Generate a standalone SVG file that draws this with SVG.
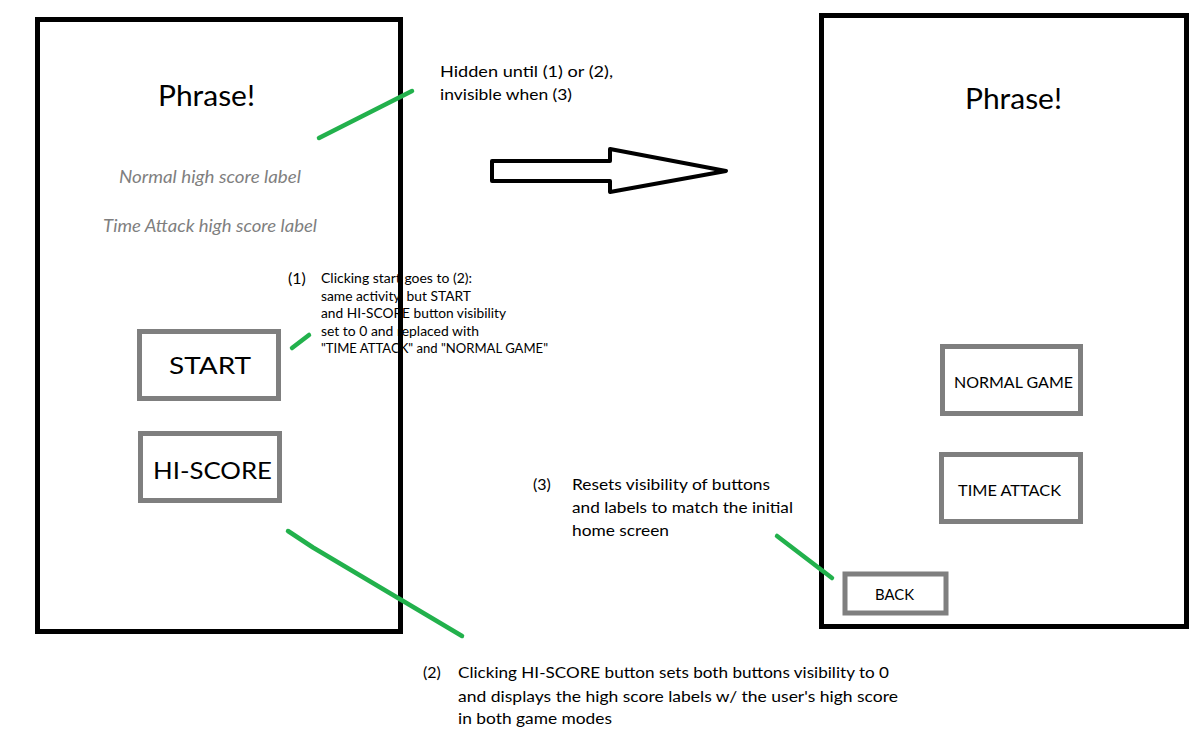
<svg xmlns="http://www.w3.org/2000/svg" width="1202" height="747" viewBox="0 0 1202 747">
<style>
text{font-family:Lato,"Open Sans","Liberation Sans",sans-serif;fill:#000}
.frame{fill:none;stroke:#000;stroke-width:5}
.btn{fill:#fff;stroke:#7f7f7f;stroke-width:5}
.lbl{fill:#7f7f7f;font-style:italic;font-size:16.8px}
.title{font-size:29.5px}
.big{font-size:24px}
.med{font-size:15.5px}
.note{font-size:16px}
.small{font-size:12.5px}
.green{fill:none;stroke:#22b14c;stroke-width:4.5;stroke-linecap:round;stroke-linejoin:round}
.block{fill:#fff;stroke:#000;stroke-width:4;stroke-linejoin:round}
</style>
<rect width="1202" height="747" fill="#fff"/>

<g id="note1">
<text class="note" x="288" y="284">(1)</text>
<text class="small" x="321" y="283.3" textLength="151" lengthAdjust="spacingAndGlyphs">Clicking start goes to (2):</text>
<text class="small" x="321" y="300.7" textLength="150" lengthAdjust="spacingAndGlyphs">same activity, but START</text>
<text class="small" x="321" y="318.3" textLength="185" lengthAdjust="spacingAndGlyphs">and HI-SCORE button visibility</text>
<text class="small" x="321" y="336" textLength="158" lengthAdjust="spacingAndGlyphs">set to 0 and replaced with</text>
<text class="small" x="321" y="353.3" textLength="227" lengthAdjust="spacingAndGlyphs">"TIME ATTACK" and "NORMAL GAME"</text>
</g>

<g id="note-hidden">
<text class="note" x="440" y="77" textLength="173" lengthAdjust="spacingAndGlyphs">Hidden until (1) or (2),</text>
<text class="note" x="440" y="99.5" textLength="132" lengthAdjust="spacingAndGlyphs">invisible when (3)</text>
</g>

<g id="note3">
<text class="note" x="533" y="490">(3)</text>
<text class="note" x="572" y="490" textLength="198" lengthAdjust="spacingAndGlyphs">Resets visibility of buttons</text>
<text class="note" x="572" y="513" textLength="221" lengthAdjust="spacingAndGlyphs">and labels to match the initial</text>
<text class="note" x="572" y="535.5" textLength="97" lengthAdjust="spacingAndGlyphs">home screen</text>
</g>

<g id="note2">
<text class="note" x="423" y="678">(2)</text>
<text class="note" x="458" y="678" textLength="431" lengthAdjust="spacingAndGlyphs">Clicking HI-SCORE button sets both buttons visibility to 0</text>
<text class="note" x="458" y="701.5" textLength="440" lengthAdjust="spacingAndGlyphs">and displays the high score labels w/ the user's high score</text>
<text class="note" x="458" y="723.5" textLength="154" lengthAdjust="spacingAndGlyphs">in both game modes</text>
</g>

<g id="home-screen">
<rect class="frame" x="37.5" y="19.5" width="363" height="612"/>
<text class="title" x="158" y="106" textLength="97" lengthAdjust="spacingAndGlyphs">Phrase!</text>
<text class="lbl" x="119" y="183.3" textLength="182" lengthAdjust="spacingAndGlyphs">Normal high score label</text>
<text class="lbl" x="103" y="232" textLength="214" lengthAdjust="spacingAndGlyphs">Time Attack high score label</text>
</g>
<g id="btn-start">
<rect class="btn" x="139.5" y="331.5" width="139" height="67"/>
<text class="big" x="169" y="374" textLength="82" lengthAdjust="spacingAndGlyphs">START</text>
</g>
<g id="btn-hiscore">
<rect class="btn" x="140.5" y="433.5" width="139" height="67"/>
<text class="big" x="153" y="479" textLength="119" lengthAdjust="spacingAndGlyphs">HI-SCORE</text>
</g>

<g id="game-select-screen">
<rect class="frame" x="821.5" y="15.5" width="365" height="611"/>
<text class="title" x="965" y="109" textLength="97" lengthAdjust="spacingAndGlyphs">Phrase!</text>
</g>
<g id="btn-normal">
<rect class="btn" x="942.5" y="346.5" width="138" height="67"/>
<text class="med" x="954" y="388" textLength="119" lengthAdjust="spacingAndGlyphs">NORMAL GAME</text>
</g>
<g id="btn-timeattack">
<rect class="btn" x="941.5" y="454.5" width="139" height="67"/>
<text class="med" x="958" y="496" textLength="103" lengthAdjust="spacingAndGlyphs">TIME ATTACK</text>
</g>
<g id="btn-back">
<rect class="btn" x="845" y="574" width="101" height="39"/>
<text class="med" x="875" y="599.5" textLength="39" lengthAdjust="spacingAndGlyphs">BACK</text>
</g>

<g id="connectors">
<polygon class="block" points="492,161 610,161 610,149 726,171 610,192 610,181 492,181"/>
<line class="green" x1="319" y1="138" x2="412" y2="91"/>
<line class="green" x1="292" y1="348" x2="309" y2="335"/>
<polyline class="green" points="288,531 313,547.5 462,636"/>
<line class="green" x1="777" y1="536" x2="832" y2="578"/>
</g>
</svg>
